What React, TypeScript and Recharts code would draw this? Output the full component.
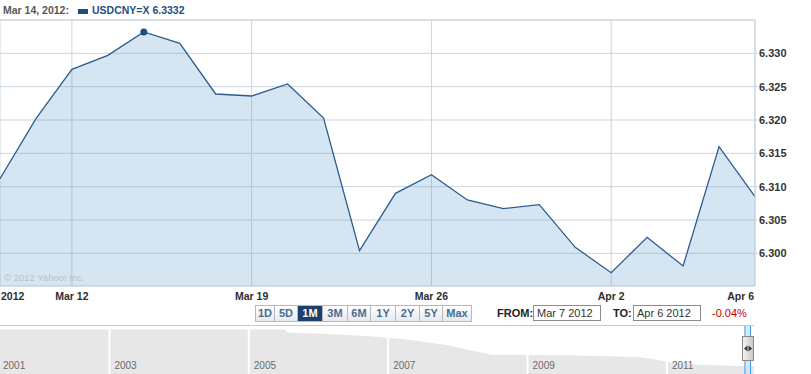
import React from "react"
import { Area, AreaChart, CartesianGrid, ReferenceArea, ReferenceLine, XAxis, YAxis } from "recharts"

// USD/CNY daily closes, Mar 8 - Apr 6 2012
const dates = [
  "Mar 8", "Mar 9", "Mar 12", "Mar 13", "Mar 14", "Mar 15", "Mar 16",
  "Mar 19", "Mar 20", "Mar 21", "Mar 22", "Mar 23",
  "Mar 26", "Mar 27", "Mar 28", "Mar 29", "Mar 30",
  "Apr 2", "Apr 3", "Apr 4", "Apr 5", "Apr 6",
]
const rates = [
  6.3112, 6.3202, 6.3276, 6.3297, 6.3332, 6.3315, 6.3239,
  6.3236, 6.3254, 6.3203, 6.3004, 6.309,
  6.3118, 6.308, 6.3067, 6.3073, 6.3009,
  6.2971, 6.3024, 6.2981, 6.316, 6.3085,
]
const yTicks = [6.3, 6.305, 6.31, 6.315, 6.32, 6.325, 6.33]
const xTickIdx = [0, 2, 7, 12, 17, 21]
const xTickLabels = ["2012", "Mar 12", "Mar 19", "Mar 26", "Apr 2", "Apr 6"]
const highlightIdx = 4

// long range strip underneath
const navYears = [2001.43, 2002.7, 2002.75, 2005.52, 2005.56, 2006.17, 2006.74, 2007.24, 2007.86, 2008.17, 2008.49, 2009.46, 2010.58, 2010.78, 2011.07, 2011.47, 2012.08, 2012.25]
const navRates = [8.277, 8.277, 8.265, 8.265, 8.11, 8.024, 7.9, 7.74, 7.415, 7.146, 6.91, 6.89, 6.785, 6.69, 6.477, 6.37, 6.3, 6.3]
const navTicks = [2001, 2003, 2005, 2007, 2009, 2011]
const navSelection = [2012.12, 2012.2]

const ranges = ["1D", "5D", "1M", "3M", "6M", "1Y", "2Y", "5Y", "Max"]
const rangeWidths = [20, 24, 26, 26, 24, 26, 25, 24, 30]

const data = dates.map((d, i) => ({ i, date: d, rate: rates[i] }))
const navData = navYears.map((y, i) => ({ year: y, rate: navRates[i] }))

const font = "'Liberation Sans', Arial, sans-serif"
const grid = "#c9d5df"

function XTick(props: any) {
  const { x, y, payload } = props
  const k = xTickIdx.indexOf(payload.value)
  const anchor = k === 0 ? "start" : k === xTickIdx.length - 1 ? "end" : "middle"
  const tx = k === 0 ? 1 : k === xTickIdx.length - 1 ? x - 1 : x
  return (
    <text x={tx} y={y + 13.5} textAnchor={anchor} fontSize={10.5} fontWeight="bold" fill="#2e2e2e" fontFamily={font}>
      {xTickLabels[k]}
    </text>
  )
}

function NavTick(props: any) {
  const { x, payload } = props
  return (
    <text x={Math.max(x + 5, 3)} y={42.5} fontSize={10} fill="#6a6a6a" fontFamily={font}>
      {payload.value}
    </text>
  )
}

function renderDot(p: any) {
  if (p.index !== highlightIdx) return <g key={"d" + p.index} />
  return <circle key={"d" + p.index} cx={p.cx} cy={p.cy} r={3.5} fill="#1d4e82" />
}

export default function App() {
  return (
    <div style={{ position: "absolute", left: 0, top: 0, width: 811, height: 374, overflow: "hidden", background: "#fff", fontFamily: font }}>
      {/* legend line */}
      <div style={{ position: "absolute", left: 3, top: 4, fontSize: 10.5, fontWeight: "bold", color: "#585858", whiteSpace: "nowrap" }}>
        Mar 14, 2012:
      </div>
      <div style={{ position: "absolute", left: 78, top: 9, width: 10, height: 5, background: "#1f4e85" }} />
      <div style={{ position: "absolute", left: 92, top: 4, fontSize: 10.5, fontWeight: "bold", color: "#1f4e85", whiteSpace: "nowrap" }}>
        USDCNY=X 6.3332
      </div>

      <div style={{ position: "absolute", left: 0, top: 0 }}>
        <AreaChart width={811} height={310} data={data} margin={{ top: 20, right: 0, bottom: 0, left: 0 }}>
          <CartesianGrid stroke={grid} />
          <XAxis
            dataKey="i"
            type="number"
            domain={[0, 21]}
            ticks={xTickIdx}
            interval={0}
            height={24}
            axisLine={{ stroke: grid }}
            tickLine={false}
            tickSize={0}
            tickMargin={0}
            tick={(p: any) => <XTick {...p} />}
          />
          <YAxis
            orientation="right"
            width={56}
            domain={[6.2951, 6.335]}
            allowDataOverflow
            ticks={yTicks}
            interval={0}
            axisLine={{ stroke: grid }}
            tickLine={{ stroke: grid }}
            tickSize={3}
            tickMargin={1}
            tickFormatter={(v: number) => v.toFixed(3)}
            tick={{ fontSize: 11, fontWeight: "bold", fill: "#333", fontFamily: font }}
          />
          <ReferenceLine y={6.335} stroke={grid} />
          <Area
            type="linear"
            dataKey="rate"
            stroke="#2b5c91"
            strokeWidth={1.3}
            fill="#5a97cc"
            fillOpacity={0.25}
            dot={renderDot}
            activeDot={false}
            isAnimationActive={false}
          />
        </AreaChart>
      </div>

      <div style={{ position: "absolute", left: 4, top: 272, fontSize: 9.5, color: "#b4c1cb", whiteSpace: "nowrap" }}>
        © 2012 Yahoo! Inc.
      </div>

      {/* range buttons */}
      <div style={{ position: "absolute", left: 255, top: 305, display: "flex", height: 17 }}>
        {ranges.map((r, i) => (
          <div
            key={r}
            style={{
              width: rangeWidths[i],
              boxSizing: "border-box",
              border: "1px solid #b0bac4",
              marginLeft: i === 0 ? 0 : -1,
              background: r === "1M" ? "#1c3f6b" : "linear-gradient(#ffffff, #e6eaee)",
              color: r === "1M" ? "#fff" : "#4a6b8f",
              fontSize: 11,
              fontWeight: "bold",
              textAlign: "center",
              lineHeight: "15px",
            }}
          >
            {r}
          </div>
        ))}
      </div>

      <div style={{ position: "absolute", left: 497, top: 307, fontSize: 11, fontWeight: "bold", color: "#222" }}>FROM:</div>
      <div style={{ position: "absolute", left: 533, top: 305, width: 68, height: 16, boxSizing: "border-box", border: "1px solid #8c8c8c", fontSize: 11, color: "#333", paddingLeft: 3, lineHeight: "14px", whiteSpace: "nowrap" }}>
        Mar 7 2012
      </div>
      <div style={{ position: "absolute", left: 613, top: 307, fontSize: 11, fontWeight: "bold", color: "#222" }}>TO:</div>
      <div style={{ position: "absolute", left: 633, top: 305, width: 68, height: 16, boxSizing: "border-box", border: "1px solid #8c8c8c", fontSize: 11, color: "#333", paddingLeft: 3, lineHeight: "14px", whiteSpace: "nowrap" }}>
        Apr 6 2012
      </div>
      <div style={{ position: "absolute", left: 712, top: 307, fontSize: 11, color: "#cc0000" }}>-0.04%</div>

      {/* navigator */}
      <div style={{ position: "absolute", left: 0, top: 325, width: 754, height: 1, background: "#c8c8c8" }} />
      <div style={{ position: "absolute", left: 0, top: 326 }}>
        <AreaChart width={754} height={48} data={navData} margin={{ top: 0, right: 0, bottom: 0, left: 0 }}>
          <XAxis
            dataKey="year"
            type="number"
            domain={[2001.43, 2012.25]}
            allowDataOverflow
            ticks={navTicks}
            interval={0}
            mirror
            height={20}
            axisLine={false}
            tickLine={false}
            tickSize={0}
            tickMargin={0}
            tick={(p: any) => <NavTick {...p} />}
          />
          <YAxis hide domain={[5.869, 8.455]} allowDataOverflow />
          <Area type="linear" dataKey="rate" stroke="none" fill="#e7e7e7" fillOpacity={1} isAnimationActive={false} />
          {navTicks.slice(1).map((t) => (
            <ReferenceLine key={t} x={t} stroke="#fff" strokeWidth={2} />
          ))}
          <ReferenceArea x1={navSelection[0]} x2={navSelection[1]} fill="#cfe4f5" fillOpacity={0.8} stroke="none" />
          <ReferenceLine x={navSelection[0]} stroke="#3a9be8" />
          <ReferenceLine x={navSelection[1]} stroke="#3a9be8" />
        </AreaChart>
      </div>
      <div style={{ position: "absolute", left: 742, top: 336, width: 12, height: 25, boxSizing: "border-box", border: "1px solid #8a8a8a", background: "linear-gradient(90deg, #f2f2f2, #c9c9c9)" }}>
        <svg width={10} height={23} style={{ position: "absolute", left: 0, top: 0 }}>
          <polygon points="1,11.5 4.5,8.5 4.5,14.5" fill="#333" />
          <polygon points="9,11.5 5.5,8.5 5.5,14.5" fill="#333" />
        </svg>
      </div>
    </div>
  )
}
